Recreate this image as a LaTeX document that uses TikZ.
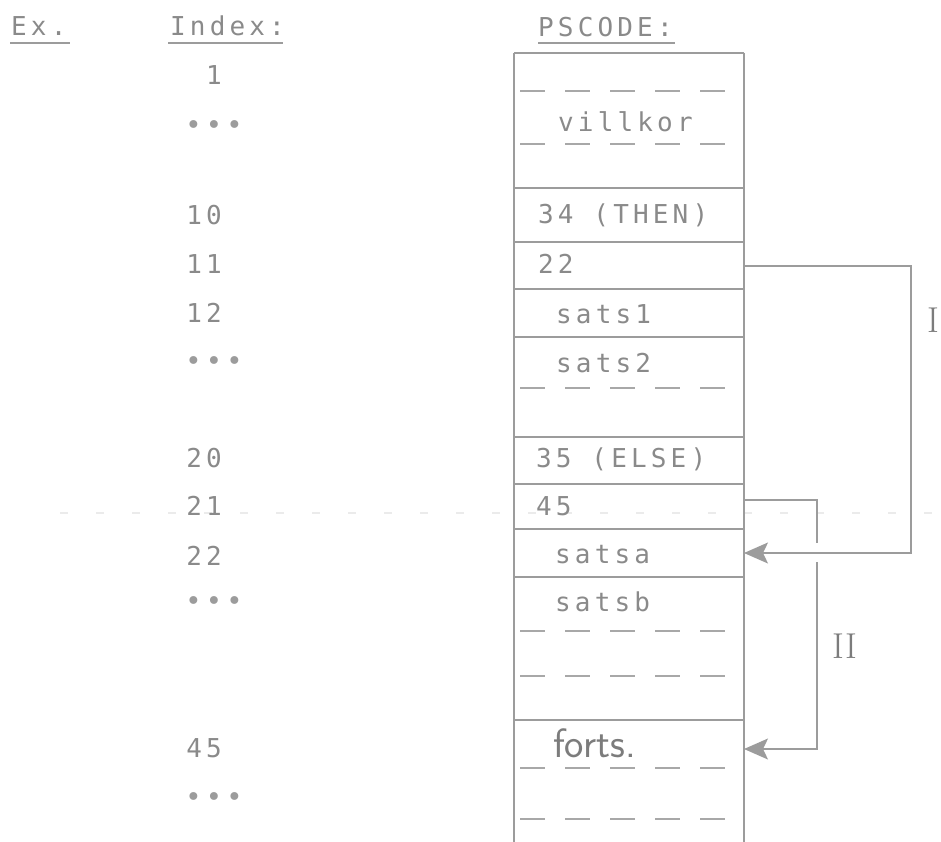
\documentclass[tikz,border=0pt]{standalone}
\usepackage{fontspec}
\setmonofont{DejaVu Sans Mono}[LetterSpace=16]
\usetikzlibrary{arrows.meta}
\definecolor{ink}{HTML}{8A8A8A}
\definecolor{rulec}{HTML}{9C9C9C}
\definecolor{dashc}{HTML}{A8A8A8}
\definecolor{faint}{HTML}{EBEBEB}
\begin{document}
\begin{tikzpicture}[x=1pt,y=-1pt,
  txt/.style={font=\fontsize{26}{26}\selectfont\ttfamily, text=ink, inner sep=0pt, anchor=base west},
  idx/.style={txt, anchor=base east},
  dots/.style={font=\fontsize{27}{27}\selectfont\ttfamily, text=ink!85, inner sep=0pt, anchor=center},
  hand/.style={font=\fontsize{41}{41}\selectfont\sffamily, text=ink!90!black, inner sep=0pt, anchor=base west},
  roman/.style={font=\fontsize{36}{36}\selectfont\rmfamily, text=ink!90!black, inner sep=0pt},
  solidrule/.style={draw=rulec, line width=1.3pt},
  dashrule/.style={draw=dashc, line width=1.1pt, dash pattern=on 25pt off 20pt},
  link/.style={draw=rulec, line width=1.3pt},
  tip/.style={-{Stealth[length=24pt,width=21pt,inset=5pt]}}
]
\useasboundingbox (0,0) rectangle (941,842);
% faint scan line
\draw[draw=faint, line width=1.2pt, dash pattern=on 8pt off 28pt] (60,513) -- (941,513);

% headers
\node[txt] (ex) at (11,36) {Ex.};
\node[txt] (index) at (170,36) {Index:};
\node[txt] (ps) at (538,37) {PSCODE:};
\draw[solidrule] (10,43) -- (70,43);
\draw[solidrule] (168,43) -- (283,43);
\draw[solidrule] (538,43) -- (675,43);

% index column
\node[idx] (i1)  at (222,85)  {1};
\node[dots] (d1)  at (214,128) {•••};
\node[idx] (i10) at (222,225) {10};
\node[idx] (i11) at (222,273) {11};
\node[idx] (i12) at (222,322) {12};
\node[dots] (d2)  at (214,364) {•••};
\node[idx] (i20) at (222,467) {20};
\node[idx] (i21) at (222,515) {21};
\node[idx] (i22) at (222,565) {22};
\node[dots] (d3)  at (214,604) {•••};
\node[idx] (i45) at (222,757) {45};
\node[dots] (d4)  at (214,800) {•••};

% PSCODE column: frame
\draw[solidrule] (514,53) -- (514,842);
\draw[solidrule] (744,53) -- (744,842);
\foreach \yy in {53,188,242,289,337,437,484,529,577,720}
  \draw[solidrule] (514,\yy) -- (744,\yy);
\foreach \yy in {91,144,388,631,676,768,819}
  \draw[dashrule] (520,\yy) -- (742,\yy);

% PSCODE texts
\node[txt] (villkor) at (558,132) {villkor};
\node[txt] (then) at (538,223) {34 (THEN)};
\node[txt] (n22) at (538,273) {22};
\node[txt] (sats1) at (556,323) {sats1};
\node[txt] (sats2) at (556,372) {sats2};
\node[txt] (else) at (536,467) {35 (ELSE)};
\node[txt] (n45) at (536,515) {45};
\node[txt] (satsa) at (555,563) {satsa};
\node[txt] (satsb) at (555,611) {satsb};
\node[hand] (forts) at (553,757) {forts.};

% connectors
\coordinate (p22) at (744,266);
\coordinate (pI) at (911,266);
\coordinate (psatsa) at (744,553);
\coordinate (p45) at (744,500);
\coordinate (pII) at (817,500);
\coordinate (gapTop) at (817,543);
\coordinate (gapBot) at (817,562);
\coordinate (pforts) at (744,749);
\draw[link, tip] (p22) -- (pI) |- (psatsa);
\draw[link] (p45) -- (pII) -- (gapTop);
\draw[link, tip] (gapBot) |- (pforts);

\node[roman] (lI) at (933,320) {I};
\node[roman] (lII) at (845,646) {II};
\end{tikzpicture}
\end{document}
